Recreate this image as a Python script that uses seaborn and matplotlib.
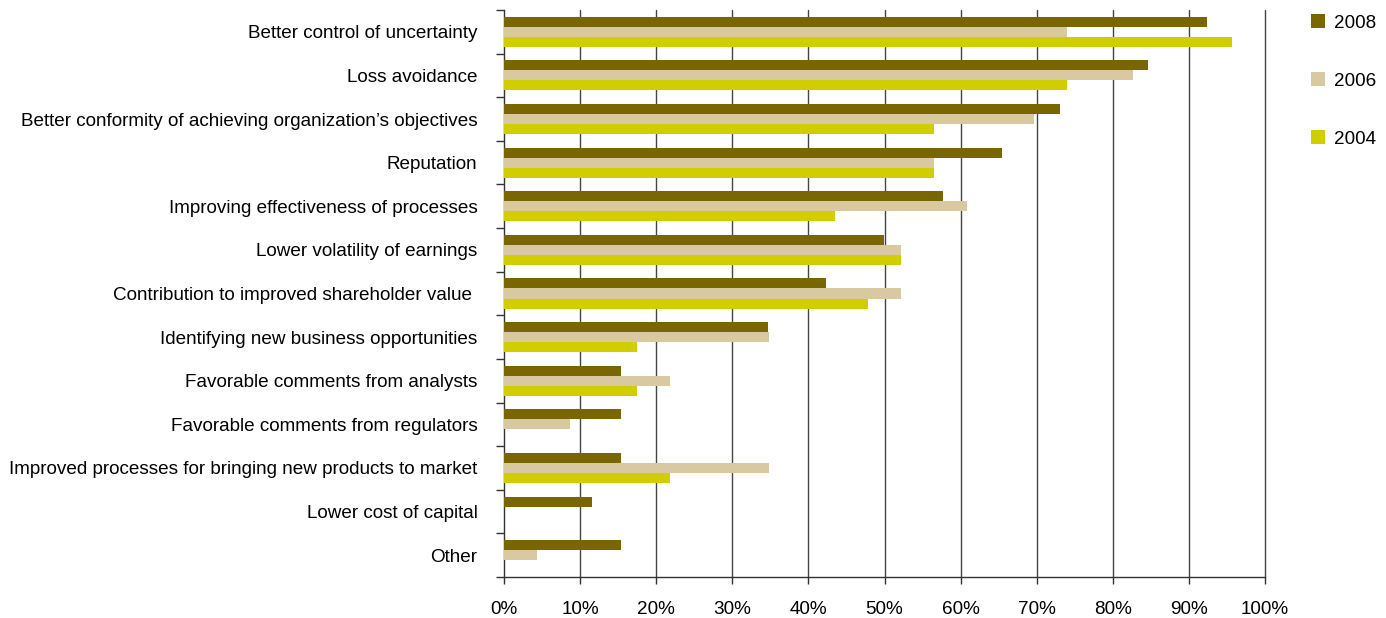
import matplotlib
matplotlib.use("Agg")
import matplotlib.pyplot as plt
import seaborn as sns
import pandas as pd
import numpy as np
from matplotlib.ticker import FixedLocator, PercentFormatter

categories = [
    "Better control of uncertainty",
    "Loss avoidance",
    "Better conformity of achieving organization\u2019s objectives",
    "Reputation",
    "Improving effectiveness of processes",
    "Lower volatility of earnings",
    "Contribution to improved shareholder value ",
    "Identifying new business opportunities",
    "Favorable comments from analysts",
    "Favorable comments from regulators",
    "Improved processes for bringing new products to market",
    "Lower cost of capital",
    "Other",
]
years = ["2008", "2006", "2004"]
v2008 = [92.4, 84.6, 73.0, 65.4, 57.7, 49.9, 42.3, 34.7, 15.4, 15.4, 15.4, 11.5, 15.4]
v2006 = [74.0, 82.7, 69.6, 56.5, 60.8, 52.2, 52.2, 34.8, 21.8, 8.7, 34.8, 0.0, 4.3]
v2004 = [95.7, 74.0, 56.5, 56.5, 43.5, 52.2, 47.8, 17.5, 17.5, 0.0, 21.8, 0.0, 0.0]
colors = ["#7a6600", "#d8c9a0", "#d0cd00"]

df = pd.DataFrame({
    "category": categories * 3,
    "year": [y for y in years for _ in categories],
    "value": v2008 + v2006 + v2004,
})

sns.set_style("white")
plt.rcParams["font.family"] = ["Liberation Sans", "DejaVu Sans"]
plt.rcParams["text.color"] = "black"
plt.rcParams["xtick.color"] = "black"
plt.rcParams["ytick.color"] = "black"

fig = plt.figure(figsize=(13.86, 6.18), dpi=100)
ax = fig.add_axes([504/1386, 1-577/618, (1265-504)/1386, (577-10)/618])

sns.barplot(data=df, y="category", x="value", hue="year", hue_order=years,
            order=categories, palette=colors, orient="h", width=0.69,
            saturation=1, ax=ax, legend=True, zorder=3, linewidth=0,
            edgecolor="none", gap=0)

ax.set_xlim(0, 100)
ax.set_ylim(len(categories) - 0.5, -0.5)
ax.set_xlabel("")
ax.set_ylabel("")
ax.xaxis.set_major_locator(FixedLocator(np.arange(0, 101, 10)))
ax.xaxis.set_major_formatter(PercentFormatter(decimals=0))
ax.grid(False)
for xv in np.arange(10, 101, 10):
    ax.axvline(xv, color="#444444", linewidth=1.0, zorder=0, clip_on=False)
for s in ["top", "right"]:
    ax.spines[s].set_visible(False)
for s in ["left", "bottom"]:
    ax.spines[s].set_color("#333333")
    ax.spines[s].set_linewidth(1.0)
ax.yaxis.set_minor_locator(FixedLocator(np.arange(-0.5, len(categories), 1.0)))
ax.tick_params(axis="x", which="major", bottom=True, direction="out", length=5,
               width=1, color="#333333", labelsize=13.6, pad=12)
ax.tick_params(axis="y", which="major", left=True, length=0, labelsize=13.6, pad=19)
ax.tick_params(axis="y", which="minor", left=True, direction="out", length=6,
               width=1, color="#333333")

handles, labels = ax.get_legend_handles_labels()
ax.get_legend().remove()
fig.legend(handles, labels, loc="upper left", bbox_to_anchor=(1294/1386, 1+3/618),
           frameon=False, fontsize=13.6, handlelength=0.75, handleheight=0.75,
           handletextpad=0.45, labelspacing=2.15)

fig.savefig("out.png", dpi=100)
